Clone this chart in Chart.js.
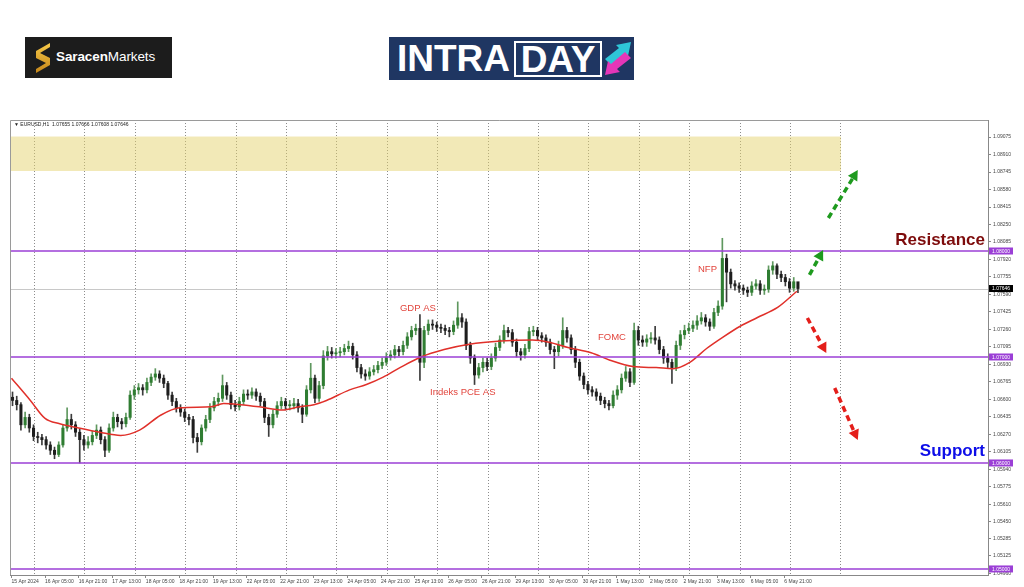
<!DOCTYPE html>
<html>
<head>
<meta charset="utf-8">
<title>EURUSD H1 Intraday</title>
<script src="https://cdn.jsdelivr.net/npm/chart.js@4.4.1/dist/chart.umd.min.js"></script>
<style>
  html, body { margin: 0; padding: 0; background: #fff; }
  #page { position: relative; width: 1024px; height: 587px; overflow: hidden; font-family: "Liberation Sans", Arial, sans-serif; }
  #chart { position: absolute; left: 0; top: 0; }
  .saracen { position: absolute; left: 25px; top: 37px; width: 147px; height: 41px; background: #1c1c1c; }
  .saracen svg { position: absolute; left: 8px; top: 5px; }
  .saracen span { position: absolute; left: 31px; top: 12px; color: #fff; font-size: 13.5px; letter-spacing: -0.1px; }
  .intraday { position: absolute; left: 389px; top: 37px; width: 245px; height: 43px; background: #1f3662; }
  .intraday .intra { position: absolute; left: 8px; top: 1px; color: #fff; font-weight: bold; font-size: 37px; line-height: 42px; }
  .intraday .day { position: absolute; left: 125px; top: 4px; width: 84px; height: 32px; border: 2px solid #fff; color: #fff; font-weight: bold; font-size: 37px; line-height: 33px; text-align: center; }
  .intraday svg { position: absolute; left: 214px; top: 4px; }
</style>
</head>
<body>
<div id="page">
  <canvas id="chart" width="1024" height="587"></canvas>
  <div class="saracen">
    <svg width="20" height="32" viewBox="0 0 20 32">
      <defs>
        <linearGradient id="gold" x1="0" y1="0" x2="0" y2="1">
          <stop offset="0" stop-color="#f7c948"/>
          <stop offset="1" stop-color="#c4861a"/>
        </linearGradient>
      </defs>
      <path d="M17 1 L3 9 L3 16 L13 21 L3 27 L3 31 L17 23 L17 16 L7 11 L17 5 Z" fill="url(#gold)"/>
    </svg>
    <span><b>Saracen</b>Markets</span>
  </div>
  <div class="intraday">
    <span class="intra">INTRA</span>
    <div class="day">DAY</div>
    <svg width="30" height="36" viewBox="0 0 30 36">
      <polygon points="2,18 16,7 13,4 28,1 25,15 22,12 8,24" fill="#2ec6d8"/>
      <polygon points="28,17 14,28 17,31 2,34 5,20 8,23 22,11" fill="#e536b8"/>
    </svg>
  </div>
</div>

<script>
const header = "\u25BC EURUSD,H1  1.07655 1.07666 1.07608 1.07646";
const firstOpen = 1.0662;

// 2-hour candles, starting 15 Apr 13:00
const closes = [
  1.0659, 1.0655, 1.0636, 1.0643, 1.0633, 1.0625, 1.0624, 1.0622, 1.0617, 1.0612,
  1.0608, 1.0617, 1.0633, 1.0641, 1.0636, 1.0629, 1.0622, 1.0617, 1.0620, 1.0626,
  1.0631, 1.0622, 1.0612, 1.0633, 1.0643, 1.0639, 1.0637, 1.0643, 1.0664, 1.0669,
  1.0671, 1.0669, 1.0676, 1.0681, 1.0684, 1.0680, 1.0675, 1.0664, 1.0658, 1.0652,
  1.0648, 1.0643, 1.0641, 1.0624, 1.0620, 1.0633, 1.0641, 1.0652, 1.0658, 1.0661,
  1.0673, 1.0664, 1.0655, 1.0653, 1.0658, 1.0665, 1.0664, 1.0667, 1.0663, 1.0658,
  1.0643, 1.0636, 1.0646, 1.0654, 1.0658, 1.0654, 1.0654, 1.0656, 1.0652, 1.0646,
  1.0669, 1.0680, 1.0661, 1.0673, 1.0701, 1.0705, 1.0703, 1.0704, 1.0705, 1.0708,
  1.0710, 1.0702, 1.0690, 1.0684, 1.0682, 1.0686, 1.0688, 1.0692, 1.0695, 1.0700,
  1.0702, 1.0707, 1.0705, 1.0711, 1.0719, 1.0725, 1.0727, 1.0695, 1.0725, 1.0731,
  1.0730, 1.0728, 1.0727, 1.0725, 1.0724, 1.0730, 1.0737, 1.0733, 1.0711, 1.0699,
  1.0683, 1.0690, 1.0695, 1.0691, 1.0699, 1.0709, 1.0716, 1.0725, 1.0723, 1.0714,
  1.0705, 1.0702, 1.0708, 1.0724, 1.0725, 1.0720, 1.0718, 1.0714, 1.0707, 1.0705,
  1.0711, 1.0725, 1.0718, 1.0707, 1.0695, 1.0682, 1.0674, 1.0669, 1.0667, 1.0663,
  1.0659, 1.0656, 1.0654, 1.0664, 1.0669, 1.0680, 1.0686, 1.0676, 1.0725, 1.0716,
  1.0714, 1.0717, 1.0718, 1.0716, 1.0707, 1.0699, 1.0695, 1.0690, 1.0711, 1.0721,
  1.0725, 1.0727, 1.0730, 1.0734, 1.0737, 1.0733, 1.0729, 1.0742, 1.0748, 1.0793,
  1.0780, 1.0769, 1.0767, 1.0765, 1.0763, 1.0761, 1.0767, 1.0769, 1.0763, 1.0764,
  1.0782, 1.0786, 1.0778, 1.0775, 1.0771, 1.0765, 1.0771, 1.07646
];
const highs = [
  1.0667, 1.0663, 1.0657, 1.0648, 1.0646, 1.0636, 1.0629, 1.0627, 1.0625, 1.0620,
  1.0615, 1.0620, 1.0636, 1.0652, 1.0646, 1.0639, 1.0632, 1.0626, 1.0625, 1.0630,
  1.0636, 1.0634, 1.0625, 1.0637, 1.0648, 1.0646, 1.0642, 1.0647, 1.0668, 1.0673,
  1.0675, 1.0674, 1.0680, 1.0684, 1.0689, 1.0687, 1.0683, 1.0677, 1.0667, 1.0661,
  1.0655, 1.0651, 1.0646, 1.0644, 1.0628, 1.0636, 1.0645, 1.0656, 1.0662, 1.0666,
  1.0683, 1.0676, 1.0667, 1.0659, 1.0662, 1.0669, 1.0669, 1.0671, 1.0670, 1.0666,
  1.0661, 1.0646, 1.0650, 1.0658, 1.0662, 1.0661, 1.0659, 1.0661, 1.0660, 1.0655,
  1.0673, 1.0694, 1.0683, 1.0677, 1.0706, 1.0710, 1.0709, 1.0708, 1.0709, 1.0712,
  1.0715, 1.0713, 1.0705, 1.0693, 1.0688, 1.0690, 1.0692, 1.0696, 1.0699, 1.0704,
  1.0706, 1.0711, 1.0710, 1.0715, 1.0723, 1.0729, 1.0731, 1.0740, 1.0729, 1.0735,
  1.0735, 1.0733, 1.0731, 1.0730, 1.0728, 1.0734, 1.0752, 1.0741, 1.0736, 1.0714,
  1.0702, 1.0694, 1.0699, 1.0699, 1.0703, 1.0713, 1.0720, 1.0730, 1.0728, 1.0726,
  1.0717, 1.0708, 1.0712, 1.0728, 1.0729, 1.0728, 1.0723, 1.0721, 1.0717, 1.0710,
  1.0715, 1.0737, 1.0728, 1.0721, 1.0710, 1.0698, 1.0685, 1.0677, 1.0672, 1.0670,
  1.0666, 1.0662, 1.0659, 1.0668, 1.0673, 1.0684, 1.0691, 1.0689, 1.0732, 1.0729,
  1.0720, 1.0721, 1.0723, 1.0729, 1.0719, 1.0710, 1.0703, 1.0698, 1.0715, 1.0725,
  1.0730, 1.0732, 1.0734, 1.0739, 1.0742, 1.0740, 1.0736, 1.0746, 1.0753, 1.0812,
  1.0797, 1.0783, 1.0772, 1.0770, 1.0768, 1.0766, 1.0771, 1.0773, 1.0772, 1.0768,
  1.0786, 1.0790, 1.0788, 1.0781, 1.0778, 1.0774, 1.0775, 1.07666
];
const lows = [
  1.0654, 1.0650, 1.0631, 1.0633, 1.0629, 1.0621, 1.0619, 1.0617, 1.0613, 1.0608,
  1.0604, 1.0606, 1.0615, 1.0630, 1.0632, 1.0625, 1.0600, 1.0612, 1.0614, 1.0617,
  1.0623, 1.0618, 1.0606, 1.0610, 1.0630, 1.0634, 1.0632, 1.0634, 1.0641, 1.0660,
  1.0665, 1.0664, 1.0666, 1.0673, 1.0678, 1.0676, 1.0671, 1.0660, 1.0654, 1.0648,
  1.0644, 1.0639, 1.0636, 1.0619, 1.0610, 1.0617, 1.0630, 1.0638, 1.0649, 1.0654,
  1.0658, 1.0660, 1.0651, 1.0649, 1.0650, 1.0655, 1.0660, 1.0661, 1.0659, 1.0654,
  1.0638, 1.0625, 1.0633, 1.0643, 1.0651, 1.0650, 1.0650, 1.0651, 1.0648, 1.0638,
  1.0644, 1.0666, 1.0657, 1.0658, 1.0670, 1.0697, 1.0699, 1.0699, 1.0700, 1.0702,
  1.0705, 1.0698, 1.0686, 1.0680, 1.0678, 1.0679, 1.0683, 1.0685, 1.0689, 1.0692,
  1.0697, 1.0699, 1.0701, 1.0702, 1.0708, 1.0716, 1.0721, 1.0678, 1.0690, 1.0721,
  1.0726, 1.0724, 1.0723, 1.0721, 1.0719, 1.0721, 1.0727, 1.0728, 1.0707, 1.0694,
  1.0674, 1.0680, 1.0686, 1.0687, 1.0688, 1.0696, 1.0706, 1.0713, 1.0719, 1.0710,
  1.0700, 1.0697, 1.0699, 1.0705, 1.0720, 1.0716, 1.0714, 1.0710, 1.0703, 1.0689,
  1.0701, 1.0708, 1.0714, 1.0703, 1.0690, 1.0678, 1.0670, 1.0665, 1.0663, 1.0659,
  1.0655, 1.0652, 1.0650, 1.0652, 1.0660, 1.0666, 1.0677, 1.0672, 1.0674, 1.0711,
  1.0710, 1.0710, 1.0713, 1.0712, 1.0703, 1.0694, 1.0690, 1.0675, 1.0687, 1.0707,
  1.0717, 1.0722, 1.0724, 1.0726, 1.0731, 1.0729, 1.0725, 1.0727, 1.0739, 1.0745,
  1.0752, 1.0765, 1.0763, 1.0761, 1.0759, 1.0757, 1.0758, 1.0764, 1.0759, 1.0759,
  1.0761, 1.0778, 1.0774, 1.0771, 1.0767, 1.0761, 1.0762, 1.07608
];

// moving average, hours since 15 Apr 13:00
const maHours = [0, 9, 16, 23, 32, 42, 52, 61, 71, 80, 95, 101, 109, 118, 129, 137, 144, 150, 161, 169,
  177, 185, 195, 206, 218, 233, 248, 256, 265, 276, 285, 296, 307, 315, 323, 331, 339, 347, 355, 365, 374];
const maValues = [1.0680, 1.0659, 1.0642, 1.0637, 1.0633, 1.0629, 1.0626, 1.0631, 1.0645, 1.0652,
  1.0653, 1.0656, 1.0655, 1.0653, 1.0650, 1.0653, 1.0655, 1.0659, 1.0669, 1.0674,
  1.0681, 1.0690, 1.0700, 1.0707, 1.0712, 1.0715, 1.0716, 1.0714, 1.0709, 1.0704,
  1.0697, 1.0691, 1.0690, 1.0689, 1.0695, 1.0708, 1.0719, 1.0729, 1.0737, 1.0747, 1.0762];

const timeLabels = ["15 Apr 2024", "16 Apr 05:00", "16 Apr 21:00", "17 Apr 13:00", "18 Apr 05:00", "18 Apr 21:00",
  "19 Apr 13:00", "22 Apr 05:00", "22 Apr 21:00", "23 Apr 13:00", "24 Apr 05:00", "24 Apr 21:00",
  "25 Apr 13:00", "26 Apr 05:00", "26 Apr 21:00", "29 Apr 13:00", "30 Apr 05:00", "30 Apr 21:00",
  "1 May 13:00", "2 May 05:00", "2 May 21:00", "3 May 13:00", "6 May 05:00", "6 May 21:00"];
const dayStarts = [11, 35, 59, 83, 107, 131, 155, 179, 203, 227, 251, 275, 299, 323, 347, 371, 395];
const yTicks = [1.09075, 1.08910, 1.08745, 1.08580, 1.08415, 1.08250, 1.08085, 1.07920, 1.07755, 1.07590,
  1.07425, 1.07260, 1.07095, 1.06930, 1.06765, 1.06600, 1.06435, 1.06270, 1.06105, 1.05940,
  1.05775, 1.05610, 1.05450, 1.05285, 1.05125, 1.04960];
const levels = [1.08, 1.07, 1.06, 1.05];
const lastPrice = 1.07646;

const zone = { from: -0.7, to: 395, top: 1.0908, bottom: 1.08755 };
const notes = [
  { text: "GDP AS", h: 185, p: 1.07462 },
  { text: "Indeks PCE AS", h: 199.3, p: 1.06670 },
  { text: "FOMC", h: 279.3, p: 1.07189 },
  { text: "NFP", h: 326.9, p: 1.07830 }
];
const arrows = [
  { from: [380, 1.07774], to: [386.5, 1.08009], color: "#1e9a1e" },
  { from: [389, 1.08311], to: [403, 1.08764], color: "#1e9a1e" },
  { from: [379, 1.07368], to: [388, 1.07038], color: "#e41e1a" },
  { from: [392, 1.06708], to: [403, 1.06217], color: "#e41e1a" }
];

const purple = "#9b3fd6";
const opens = closes.map((c, i) => i === 0 ? firstOpen : closes[i - 1]);
const isUp = closes.map((c, i) => c >= opens[i]);
const candleX = closes.map((c, i) => i * 2 + 0.5);

function drawArrow(ctx, x0, y0, x1, y1, color) {
  const ang = Math.atan2(y1 - y0, x1 - x0);
  const head = 10;
  const bx = x1 - Math.cos(ang) * head, by = y1 - Math.sin(ang) * head;
  ctx.save();
  ctx.strokeStyle = color;
  ctx.fillStyle = color;
  ctx.lineWidth = 3.5;
  ctx.setLineDash([6, 4]);
  ctx.beginPath();
  ctx.moveTo(x0, y0);
  ctx.lineTo(bx, by);
  ctx.stroke();
  ctx.setLineDash([]);
  ctx.beginPath();
  ctx.moveTo(x1, y1);
  ctx.lineTo(bx + Math.sin(ang) * 5.5, by - Math.cos(ang) * 5.5);
  ctx.lineTo(bx - Math.sin(ang) * 5.5, by + Math.cos(ang) * 5.5);
  ctx.closePath();
  ctx.fill();
  ctx.restore();
}

function axisBox(ctx, y, text, bg) {
  ctx.fillStyle = bg;
  ctx.fillRect(989, y - 3.5, 24, 7);
  ctx.fillStyle = "#fff";
  ctx.font = "5px 'Liberation Sans'";
  ctx.textAlign = "left";
  ctx.textBaseline = "middle";
  ctx.fillText(text, 992, y + 0.3);
}

const overlay = {
  id: "overlay",
  beforeDatasetsDraw(chart) {
    const { ctx, chartArea: a, scales: { x, y } } = chart;
    ctx.save();
    const x0 = x.getPixelForValue(zone.from), x1 = x.getPixelForValue(zone.to);
    const y0 = y.getPixelForValue(zone.top), y1 = y.getPixelForValue(zone.bottom);
    ctx.fillStyle = "rgba(228,210,104,0.48)";
    ctx.fillRect(x0, y0, x1 - x0, y1 - y0);
    const yp = Math.round(y.getPixelForValue(lastPrice)) + 0.5;
    ctx.strokeStyle = "#c8c8c8";
    ctx.lineWidth = 1;
    ctx.beginPath();
    ctx.moveTo(a.left, yp);
    ctx.lineTo(a.right, yp);
    ctx.stroke();
    ctx.restore();
  },
  afterDatasetsDraw(chart) {
    const { ctx, chartArea: a, scales: { x, y } } = chart;
    ctx.save();
    ctx.strokeStyle = purple;
    ctx.lineWidth = 1.5;
    levels.forEach(l => {
      const yp = y.getPixelForValue(l);
      ctx.beginPath();
      ctx.moveTo(a.left, yp);
      ctx.lineTo(a.right, yp);
      ctx.stroke();
    });
    ctx.fillStyle = "#e2453d";
    ctx.font = "9.5px 'Liberation Sans'";
    ctx.textAlign = "left";
    ctx.textBaseline = "middle";
    notes.forEach(n => ctx.fillText(n.text, x.getPixelForValue(n.h), y.getPixelForValue(n.p)));
    arrows.forEach(ar => drawArrow(ctx,
      x.getPixelForValue(ar.from[0]), y.getPixelForValue(ar.from[1]),
      x.getPixelForValue(ar.to[0]), y.getPixelForValue(ar.to[1]), ar.color));
    ctx.font = "bold 17px 'Liberation Sans'";
    ctx.textAlign = "right";
    ctx.fillStyle = "#7d0b0b";
    ctx.fillText("Resistance", 985, y.getPixelForValue(1.08104));
    ctx.fillStyle = "#0d0de8";
    ctx.fillText("Support", 985, y.getPixelForValue(1.06113));
    ctx.restore();
  },
  afterDraw(chart) {
    const { ctx, chartArea: a, scales: { y } } = chart;
    ctx.save();
    ctx.strokeStyle = "#9a9a9a";
    ctx.lineWidth = 1;
    ctx.beginPath();
    ctx.moveTo(a.left + 0.5, a.bottom);
    ctx.lineTo(a.left + 0.5, a.top + 0.5);
    ctx.lineTo(a.right, a.top + 0.5);
    ctx.stroke();
    levels.forEach(l => axisBox(ctx, y.getPixelForValue(l), l.toFixed(5), purple));
    axisBox(ctx, y.getPixelForValue(lastPrice), lastPrice.toFixed(5), "#000");
    ctx.fillStyle = "#222";
    ctx.font = "5px 'Liberation Sans'";
    ctx.textAlign = "left";
    ctx.textBaseline = "middle";
    ctx.fillText(header, a.left + 4, a.top + 4.5);
    ctx.restore();
  }
};

Chart.defaults.font.family = "'Liberation Sans', Arial, sans-serif";

new Chart(document.getElementById("chart"), {
  type: "bar",
  data: {
    datasets: [
      {
        type: "bar",
        label: "wick",
        data: candleX.map((h, i) => ({ x: h, y: [lows[i], highs[i]] })),
        backgroundColor: isUp.map(u => u ? "#5f985f" : "#3c3c3c"),
        barThickness: 1,
        grouped: false,
        xAxisID: "x",
        yAxisID: "y",
        order: 3
      },
      {
        type: "bar",
        label: "body",
        data: candleX.map((h, i) => ({ x: h, y: [opens[i], closes[i]] })),
        backgroundColor: isUp.map(u => u ? "#2f7d32" : "#1e1e1e"),
        barThickness: 2.4,
        minBarLength: 1,
        grouped: false,
        xAxisID: "x",
        yAxisID: "y",
        order: 2
      },
      {
        type: "line",
        label: "MA",
        data: maHours.map((h, i) => ({ x: h, y: maValues[i] })),
        borderColor: "#e0302a",
        borderWidth: 1.5,
        pointRadius: 0,
        cubicInterpolationMode: "monotone",
        xAxisID: "x",
        yAxisID: "y",
        order: 1
      }
    ]
  },
  options: {
    responsive: false,
    devicePixelRatio: 1,
    animation: false,
    layout: { padding: { left: 10, top: 120, right: 0, bottom: 0 } },
    plugins: { legend: { display: false }, tooltip: { enabled: false } },
    scales: {
      x: {
        type: "linear",
        min: -0.7,
        max: 465,
        offset: false,
        afterBuildTicks: s => { s.ticks = timeLabels.map((t, i) => ({ value: i * 16 })); },
        afterFit: s => { s.height = 12; },
        ticks: {
          autoSkip: false, maxRotation: 0, minRotation: 0, align: "start",
          padding: 1, color: "#444", font: { size: 5 },
          callback: (v, i) => timeLabels[i]
        },
        grid: { offset: false, drawOnChartArea: false, tickLength: 3, color: "#888" },
        border: { color: "#888" }
      },
      xg: {
        type: "linear",
        position: "bottom",
        min: -0.7,
        max: 465,
        offset: false,
        afterBuildTicks: s => { s.ticks = dayStarts.map(v => ({ value: v })); },
        afterFit: s => { s.height = 0; },
        ticks: { display: false },
        grid: { offset: false, drawTicks: false, color: "#8c8c8c", lineWidth: 1 },
        border: { display: false, dash: [1, 2] }
      },
      y: {
        position: "right",
        min: 1.04943,
        max: 1.09236,
        beginAtZero: false,
        afterBuildTicks: s => { s.ticks = yTicks.map(v => ({ value: v })); },
        afterFit: s => { s.width = 36; },
        ticks: { padding: 2, color: "#444", font: { size: 5 }, callback: v => v.toFixed(5) },
        grid: { drawOnChartArea: false, tickLength: 3, color: "#888" },
        border: { color: "#888" }
      }
    }
  },
  plugins: [overlay]
});
</script>
</body>
</html>
